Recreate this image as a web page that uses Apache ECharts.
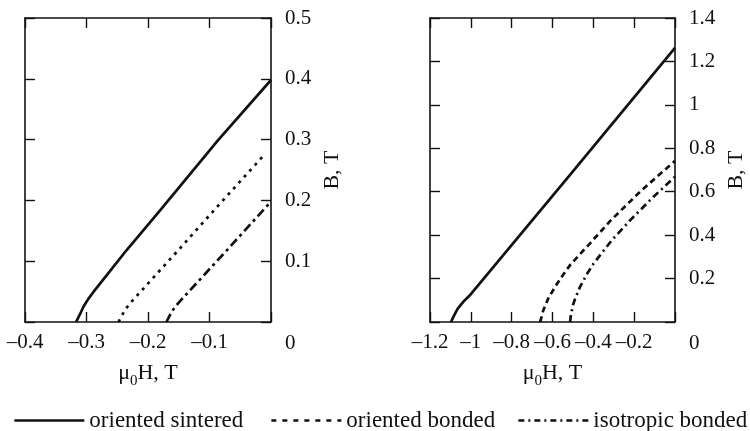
<!DOCTYPE html>
<html>
<head>
<meta charset="utf-8">
<script src="https://cdn.jsdelivr.net/npm/echarts@6/dist/echarts.min.js"></script>
<style>
html,body{margin:0;padding:0;background:#fff;}
#main{width:750px;height:431px;}
</style>
</head>
<body>
<div id="main"></div>
<script>
// 曲线数据 [H, B]
var names = ['oriented sintered', 'oriented bonded', 'isotropic bonded'];

var sinteredL = [[-0.317,0],[-0.311,0.012],[-0.305,0.025],[-0.297,0.038],[-0.289,0.049],[-0.267,0.077],[-0.235,0.118],[-0.18,0.184],[-0.086,0.299],[0,0.398]];
var orBondedL = [[-0.248,0],[-0.243,0.01],[-0.236,0.022],[-0.228,0.032],[-0.22,0.041],[-0.15,0.119],[-0.08,0.198],[-0.01,0.276]];
var isoBondedL = [[-0.17,0],[-0.165,0.01],[-0.158,0.022],[-0.15,0.032],[-0.14,0.043],[-0.07,0.12],[0,0.198]];

var sinteredR = [[-1.097,0],[-1.085,0.025],[-1.065,0.06],[-1.035,0.095],[-1.0,0.128],[-0.5,0.694],[0,1.262]];
var orBondedR = [[-0.661,0],[-0.653,0.025],[-0.645,0.054],[-0.62,0.11],[-0.587,0.162],[-0.552,0.212],[-0.514,0.262],[-0.466,0.312],[-0.416,0.362],[-0.318,0.465],[-0.245,0.532],[-0.171,0.6],[-0.085,0.672],[0,0.742]];
var isoBondedR = [[-0.514,0],[-0.511,0.025],[-0.505,0.054],[-0.499,0.08],[-0.489,0.108],[-0.465,0.162],[-0.435,0.215],[-0.399,0.269],[-0.309,0.377],[-0.211,0.477],[-0.105,0.577],[0,0.669]];

var xRangeL = [-0.4, 0], xStepL = 0.1;
var yRangeL = [0, 0.5], yStepL = 0.1;
var xRangeR = [-1.2, 0], xStepR = 0.2;
var yRangeR = [0, 1.4], yStepR = 0.2;

var font = '"Liberation Serif", "Times New Roman", serif';
var ink = '#111';

function fmt(v){
    var s = String(+v.toFixed(2));
    return s.charAt(0) == '-' ? '\u2013' + s.slice(1) : s;
}

function xAxisPair(grid, range, step){
    var base = {
        type: 'value', gridIndex: grid, min: range[0], max: range[1], interval: step,
        axisLine: {onZero: false, lineStyle: {color: ink, width: 1.6}},
        axisTick: {inside: true, length: 10, lineStyle: {color: ink, width: 1.4}},
        splitLine: {show: false}
    };
    var bottom = echarts.util.merge({
        position: 'bottom',
        name: '{a|\u03bc}{s|0}{a|H, T}', nameLocation: 'middle', nameGap: 40,
        nameTextStyle: {
            rich: {
                a: {fontFamily: font, fontSize: 22, color: ink, lineHeight: 22, verticalAlign: 'middle'},
                s: {fontFamily: font, fontSize: 15, color: ink, lineHeight: 15, verticalAlign: 'top', padding: [12, 0, 0, 0]}
            }
        },
        axisLabel: {
            margin: 10, fontFamily: font, fontSize: 21, color: ink,
            formatter: function(v){ return v === 0 ? '' : fmt(v); }
        }
    }, base, false);
    var top = echarts.util.merge({position: 'top', axisLabel: {show: false}}, echarts.util.clone(base), false);
    return [bottom, top];
}

function yAxisPair(grid, range, step){
    var base = {
        type: 'value', gridIndex: grid, min: range[0], max: range[1], interval: step,
        axisLine: {onZero: false, lineStyle: {color: ink, width: 1.6}},
        axisTick: {inside: true, length: 10, lineStyle: {color: ink, width: 1.4}},
        splitLine: {show: false}
    };
    var right = echarts.util.merge({
        position: 'right',
        name: 'B, T', nameLocation: 'middle', nameRotate: 90, nameGap: 50,
        nameTextStyle: {fontFamily: font, fontSize: 22, color: ink},
        axisLabel: {
            margin: 14, fontFamily: font, fontSize: 21, color: ink,
            formatter: function(v){ return v === 0 ? '{z|0}' : fmt(v); },
            rich: {z: {fontFamily: font, fontSize: 21, color: ink, padding: [42, 0, 0, 0]}}
        }
    }, base, false);
    var left = echarts.util.merge({position: 'left', axisLabel: {show: false}}, echarts.util.clone(base), false);
    return [right, left];
}

var xL = xAxisPair(0, xRangeL, xStepL), xR = xAxisPair(1, xRangeR, xStepR);
var yL = yAxisPair(0, yRangeL, yStepL), yR = yAxisPair(1, yRangeR, yStepR);

function line(name, data, xi, yi, type){
    return {
        name: name, type: 'line', data: data, xAxisIndex: xi, yAxisIndex: yi,
        showSymbol: false, symbol: 'none', smooth: false,
        lineStyle: {color: ink, width: 2.7, type: type},
        itemStyle: {color: ink}
    };
}

function legendAt(name, left, dash){
    return {
        data: [name], left: left, top: 404, itemWidth: 70, itemHeight: 14, itemGap: 0,
        selectedMode: false,
        itemStyle: {color: 'rgba(0,0,0,0)', borderColor: 'rgba(0,0,0,0)', borderWidth: 0, opacity: 0},
        lineStyle: {width: 2.7, type: dash},
        textStyle: {fontFamily: font, fontSize: 23, color: ink}
    };
}

var myChart = echarts.init(document.getElementById('main'));

option = {
    backgroundColor: '#fff',
    animation: false,
    grid: [
        {left: 25, top: 18, width: 246, height: 304},
        {left: 430, top: 18, width: 245, height: 304}
    ],
    xAxis: [xL[0], xL[1], xR[0], xR[1]],
    yAxis: [yL[0], yL[1], yR[0], yR[1]],
    legend: [
        legendAt(names[0], 8, 'solid'),
        legendAt(names[1], 265, [5, 6]),
        legendAt(names[2], 512, [6, 4, 2, 4])
    ],
    series: [
        line(names[0], sinteredR, 2, 2, 'solid'),
        line(names[1], orBondedR, 2, 2, [6, 4]),
        line(names[2], isoBondedR, 2, 2, [7, 4, 2, 4]),
        line(names[0], sinteredL, 0, 0, 'solid'),
        line(names[1], orBondedL, 0, 0, [3, 5]),
        line(names[2], isoBondedL, 0, 0, [9, 4, 3, 4])
    ]
};

myChart.setOption(option);
</script>
</body>
</html>
